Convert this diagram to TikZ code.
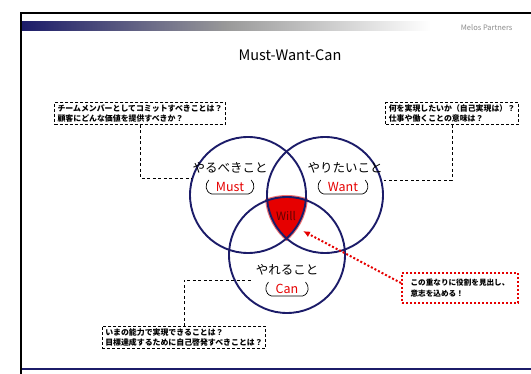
\documentclass[tikz,border=0pt]{standalone}
\usepackage{fontspec}
\setmainfont{Noto Sans CJK JP}
\newfontfamily\jp{Noto Sans CJK JP}
\usetikzlibrary{arrows.meta,calc}
\definecolor{navy}{RGB}{28,28,105}
\definecolor{darkred}{RGB}{100,0,0}
\definecolor{rred}{RGB}{230,0,0}
\newcommand\mybrk[1]{\draw[black, line width=0.7pt] ([shift={(2,-7)}]#1.west) .. controls ([shift={(-2,-3)}]#1.west) and ([shift={(-2,5)}]#1.west) .. ([shift={(5,7)}]#1.west) -- ([shift={(-5,7)}]#1.east) .. controls ([shift={(2,5)}]#1.east) and ([shift={(2,-3)}]#1.east) .. ([shift={(-2,-7)}]#1.east);}
\begin{document}
\begin{tikzpicture}[x=1pt,y=-1pt,
  vc/.style={circle, draw=navy, line width=1.9pt, minimum size=116pt, inner sep=0pt},
  lbl/.style={font=\fontsize{12.5}{14}\selectfont, inner sep=0pt},
  sub/.style={font=\fontsize{12.5}{14}\selectfont, text=rred, inner xsep=9pt, inner ysep=0pt},
  qbox/.style={draw=black, dash pattern=on 3pt off 2pt, line width=0.8pt, font=\fontsize{7.9}{10.5}\selectfont\bfseries, align=left, inner xsep=3pt, inner ysep=2pt},
  conn/.style={dash pattern=on 3pt off 2.5pt, line width=0.8pt},
]
\useasboundingbox (0,0) rectangle (531,374);
\fill[white] (0,0) rectangle (531,374);
% header
\shade[left color=navy, right color=black!40] (22,22) rectangle (226,31);
\shade[left color=black!40, right color=white] (226,22) rectangle (430,31);
\node[text=black!45, font=\fontsize{7.5}{9}\selectfont, anchor=east] (brand) at (516,28) {Melos Partners};
\draw[line width=1.5pt] (531,13) -- (21,13) -- (21,374);
\draw[navy, line width=2pt] (22,369) -- (531,369);
% title
\node[font=\fontsize{14.5}{16}\selectfont] (title) at (290,55) {Must-Want-Can};
% red triple intersection (with slight glow)
\begin{scope}
\clip (248,195) circle[radius=60pt];
\clip (325,195) circle[radius=60pt];
\fill[rred!55] (287,255) circle[radius=60pt];
\end{scope}
\begin{scope}
\clip (248,195) circle[radius=58pt];
\clip (325,195) circle[radius=58pt];
\fill[rred] (287,255) circle[radius=58pt];
\end{scope}
\node[text=darkred, font=\fontsize{11.5}{13}\selectfont] (will) at (286,216) {Will};
% circles
\node[vc] (must) at (248,195) {};
\node[vc] (want) at (325,195) {};
\node[vc] (can) at (287,255) {};
% labels
\node[lbl] (mustlbl) at (230,168) {やるべきこと};
\node[sub] (mustsub) at (230,187) {Must};
\mybrk{mustsub}
\node[lbl] (wantlbl) at (345,168) {やりたいこと};
\node[sub] (wantsub) at (343,187) {Want};
\mybrk{wantsub}
\node[lbl] (canlbl) at (287,270) {やれること};
\node[sub] (cansub) at (287,289) {Can};
\mybrk{cansub}
% question boxes
\node[qbox] (tl) at (140,113.5) {チームメンバーとしてコミットすべきことは？\\顧客にどんな価値を提供すべきか？};
\node[qbox] (tr) at (452,113.5) {何を実現したいか（自己実現は）？\\仕事や働くことの意味は？};
\node[qbox] (bot) at (184,337.5) {いまの能力で実現できることは？\\目標達成するために自己啓発すべきことは？};
\coordinate (mc) at (192,178);
\coordinate (wc) at (384,180);
\coordinate (cc) at (252,280);
\draw[conn] (tl.south) |- (mc);
\draw[conn] (tr.south) |- (wc);
\draw[conn] (bot.north) |- (cc);
% red note
\node[draw=rred, dotted, line width=2pt, font=\fontsize{7.6}{10.5}\selectfont\bfseries, align=left, minimum width=116pt, minimum height=30pt, inner xsep=4pt] (note) at (460,288) {この重なりに役割を見出し、\\意志を込める！};
\draw[rred, dotted, line width=2pt, -{Latex[length=7pt,width=6pt]}] (note.west |- 0,283) -- (303,231);
\end{tikzpicture}
\end{document}
